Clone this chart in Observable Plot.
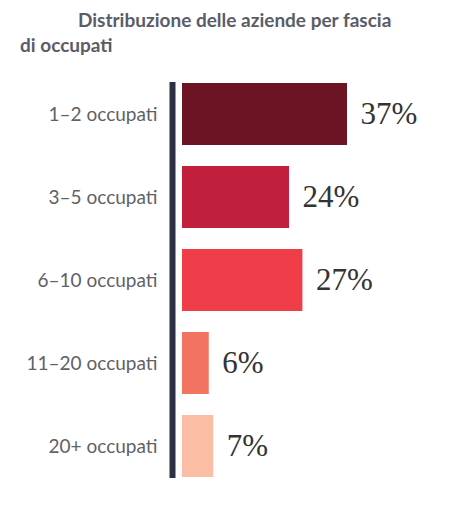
<!DOCTYPE html>
<html>
<head>
<meta charset="utf-8">
<script src="https://cdn.jsdelivr.net/npm/d3@7"></script>
<script src="https://cdn.jsdelivr.net/npm/@observablehq/plot@0.6"></script>
<style>
  html, body { margin: 0; padding: 0; background: #ffffff; }
  #chart { width: 466px; height: 520px; position: relative; }
  .title { font-family: Lato, "Open Sans", sans-serif; font-weight: 700; font-size: 19px; color: #5a5d68; line-height: 25px; height: 62px; box-sizing: border-box; padding-top: 7px; }
  .title .l1 { padding-left: 78px; }
  .title .l2 { padding-left: 20px; }
</style>
</head>
<body>
<div id="chart">
  <div class="title"><div class="l1">Distribuzione delle aziende per fascia</div><div class="l2">di occupati</div></div>
</div>
<script>
const categories = ["1–2 occupati", "3–5 occupati", "6–10 occupati", "11–20 occupati", "20+ occupati"];
const values = [37, 24, 27, 6, 7];
const colors = ["#6d1424", "#c21f3c", "#ef3d4a", "#f2735f", "#fbbda4"];

const data = categories.map((c, i) => ({category: c, value: values[i], color: colors[i]}));

const plot = Plot.plot({
  width: 466,
  height: 458,
  marginTop: 20,
  marginBottom: 42,
  marginLeft: 182,
  marginRight: 119,
  style: {background: "transparent"},
  x: {domain: [0, 37], axis: null},
  y: {domain: categories, paddingInner: 0.257, paddingOuter: 0, label: null},
  color: {type: "identity"},
  marks: [
    Plot.barX(data, {y: "category", x: "value", fill: "color"}),
    Plot.ruleX([0], {dx: -10, stroke: "#2e3144", strokeWidth: 6}),
    Plot.text(data, {
      y: "category", x: "value", text: d => d.value + "%",
      textAnchor: "start", dx: 13, fontSize: 31, fill: "#333333",
      fontFamily: "Liberation Serif, serif"
    }),
    Plot.axisY({
      tickSize: 0, tickPadding: 25, fontSize: 19, fill: "#5f6166",
      fontFamily: "Lato, sans-serif", label: null
    })
  ]
});
document.getElementById("chart").appendChild(plot);
</script>
</body>
</html>
